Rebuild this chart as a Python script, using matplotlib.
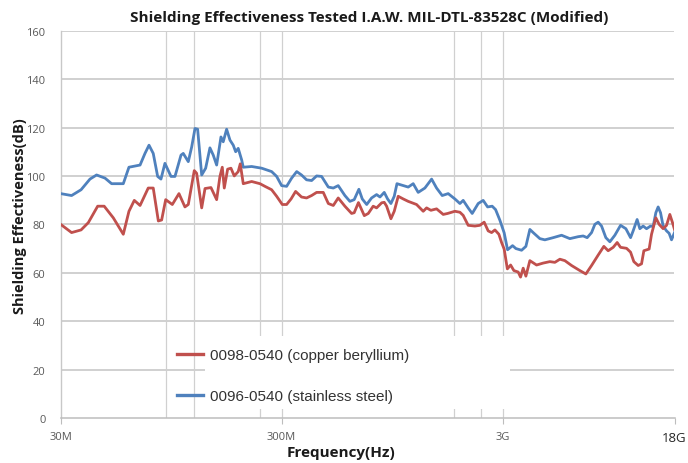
import matplotlib
matplotlib.use("Agg")
import matplotlib.pyplot as plt
from matplotlib.patches import Rectangle

# ---------------- data (frequency in MHz, shielding effectiveness in dB) -------------
blue_freq = [30, 33.6, 37.1, 40.7, 43.6, 47.6, 51.0, 57.6, 61.1, 65.1, 68.6, 72.2, 75.3,
             78.7, 82.4, 85.3, 88.9, 94.7, 98.7, 105.1, 107.6, 113.4, 117.5, 121.6, 125.0,
             130.4, 135.9, 142.1, 147.1, 152.4, 159.4, 163.2, 169.1, 175.1, 181.2, 185.8,
             190.8, 197.8, 201.1, 219.5, 243.6, 270.3, 284.8, 300, 316, 333, 351, 369, 389,
             410, 432, 455, 488, 514, 541, 580, 611, 639, 671, 695, 728, 766, 807, 836, 874,
             905, 937, 970, 998, 1065, 1122, 1182, 1245, 1335, 1432, 1508, 1599, 1702, 1825,
             1923, 1990, 2096, 2186, 2327, 2451, 2566, 2692, 2789, 2917, 3050, 3160, 3329,
             3447, 3657, 3825, 3987, 4127, 4425, 4662, 5082, 5548, 6049, 6595, 6949, 7245,
             7584, 7849, 8124, 8416, 8801, 9177, 9666, 10260, 10843, 11388, 11698, 12193,
             12543, 12982, 13449, 14022, 14405, 14820, 15180, 15563, 15990, 16567, 17019,
             17451, 18000]
blue_db = [92.7, 91.9, 94.3, 98.7, 100.4, 99.1, 96.8, 96.8, 103.6, 104.1, 104.5, 109.3, 112.7,
           109.3, 99.8, 98.7, 105.2, 99.8, 99.8, 108.6, 109.3, 105.9, 112.0, 119.6, 119.3,
           100.4, 103.2, 111.6, 108.6, 104.5, 116.1, 114.1, 119.3, 114.8, 112.7, 110.0,
           111.4, 106.6, 103.6, 103.9, 103.2, 101.8, 99.8, 96.0, 95.7, 99.1, 101.8, 100.4, 98.4,
           98.1, 100.0, 99.8, 95.4, 95.0, 96.0, 91.9, 89.5, 90.2, 94.5, 90.5, 88.2, 90.9, 92.3,
           91.3, 93.2, 90.5, 88.6, 91.6, 96.8, 96.0, 95.4, 96.8, 93.2, 95.0, 98.7, 95.0, 91.9,
           92.7, 90.5, 88.6, 89.9, 86.8, 84.5, 88.6, 89.9, 87.2, 87.5, 86.1, 81.7, 76.5, 69.5,
           71.2, 70.0, 69.3, 70.9, 77.9, 76.6, 74.1, 73.6, 74.5, 75.5, 74.1, 74.9, 75.2, 74.5,
           76.6, 80.0, 80.9, 79.3, 74.5, 72.8, 75.5, 79.6, 78.2, 74.5, 77.3, 82.0, 78.2, 79.3,
           78.2, 79.3, 79.1, 84.8, 87.2, 84.8, 79.3, 77.3, 76.3, 73.6, 76.6]

red_freq = [30, 33.6, 37.1, 40.0, 44.1, 47.2, 51.9, 57.6, 61.1, 64.6, 68.6, 74.7, 78.7, 83.0,
            85.9, 89.6, 96.0, 102.9, 109.5, 113.4, 120.7, 123.7, 130.4, 135.0, 143.6, 152.4,
            157.7, 161.6, 165.0, 170.9, 176.9, 183.1, 190.8, 194.9, 201.1, 219.5, 239.3,
            252.1, 270.3, 284.8, 302, 316, 331, 347, 369, 389, 410, 432, 463, 488, 514, 541,
            580, 622, 639, 668, 710, 740, 779, 807, 851, 874, 896, 937, 970, 1011, 1065, 1122,
            1224, 1312, 1359, 1421, 1508, 1616, 1692, 1825, 1923, 1990, 2096, 2248, 2368,
            2476, 2582, 2676, 2770, 2887, 2969, 3050, 3153, 3262, 3375, 3531, 3618, 3719,
            3825, 3987, 4275, 4579, 4910, 5174, 5451, 5742, 6157, 6714, 7146, 7584, 8124,
            8619, 9015, 9499, 9903, 10260, 10921, 11388, 11782, 12327, 12768, 13080, 13818,
            14168, 14820, 15337, 15990, 16567, 17145, 17630, 18000]
red_db = [80.0, 76.6, 77.7, 80.7, 87.5, 87.5, 82.7, 75.9, 85.4, 89.9, 87.8, 95.0, 95.0, 81.4,
          81.8, 90.2, 88.2, 92.7, 87.2, 88.2, 102.2, 101.1, 86.8, 94.8, 95.2, 90.2,
          99.8, 103.6, 95.0, 102.8, 103.2, 100.0, 101.8, 105.0, 96.8, 97.7, 96.8,
          95.7, 94.3, 91.6, 88.2, 88.2, 90.5, 93.6, 91.3, 90.9, 91.9, 93.2, 93.2, 88.6, 87.8,
          90.9, 87.5, 84.5, 84.8, 89.0, 83.6, 84.5, 87.5, 86.8, 88.9, 89.1, 87.5, 82.3, 85.4,
          91.6, 90.5, 89.5, 88.2, 85.4, 86.8, 85.8, 86.4, 84.1, 84.5, 85.4, 85.0, 83.7, 79.6,
          79.3, 79.6, 80.9, 77.3, 76.6, 77.7, 75.9, 72.5, 69.8, 61.6, 63.2, 60.9, 60.3, 58.2,
          61.9, 58.6, 65.0, 63.2, 64.0, 64.6, 64.3, 65.6, 65.0, 63.0, 60.9, 59.5, 63.0, 67.3,
          70.9, 69.1, 70.5, 72.5, 70.5, 70.1, 68.5, 64.6, 63.0, 63.7, 69.1, 69.8, 75.9, 82.7,
          80.0, 78.2, 79.6, 84.1, 80.7, 77.9]

series_labels = ["0098-0540 (copper beryllium)", "0096-0540 (stainless steel)"]
xtick_vals = [30, 300, 3000, 18000]
xtick_labels = ["30M", "300M", "3G", "18G"]
ytick_vals = [0, 20, 40, 60, 80, 100, 120, 140, 160]
vgrid_freqs = [90, 120, 240, 300, 1800, 2400, 3000]

title = "Shielding Effectiveness Tested I.A.W. MIL-DTL-83528C (Modified)"
xlabel = "Frequency(Hz)"
ylabel = "Shielding Effectiveness(dB)"

RED = "#C0504D"
BLUE = "#4F81BD"

# ---------------- figure ----------------
W, H = 688, 464
fig = plt.figure(figsize=(W / 100, H / 100), dpi=100)
left_px, right_px, top_px, bot_px = 60.7, 674.5, 31.7, 419.0
ax = fig.add_axes([left_px / W, 1 - bot_px / H, (right_px - left_px) / W, (bot_px - top_px) / H])

ax.set_xscale("log")
ax.set_xlim(30, 18000)
ax.set_ylim(0, 160)

# grid
for v in ytick_vals[1:]:
    ax.axhline(v, color="#c4c4c4", lw=1.1, zorder=1)
for f in vgrid_freqs:
    ax.axvline(f, color="#d0d0d0", lw=0.9, zorder=1)

# white patch behind legend text (as in the reference)
ax.add_patch(Rectangle((0.235, 0.024), 0.497, 0.188, transform=ax.transAxes,
                       facecolor="white", edgecolor="none", zorder=2))

l_red, = ax.plot(red_freq, red_db, color=RED, lw=2.0, zorder=4, label=series_labels[0])
l_blue, = ax.plot(blue_freq, blue_db, color=BLUE, lw=2.0, zorder=3, label=series_labels[1])

# spines
for s in ["top", "right"]:
    ax.spines[s].set_visible(False)
ax.spines["left"].set_color("#c8c8c8")
ax.spines["bottom"].set_color("#bdbdbd")
ax.spines["left"].set_linewidth(1.0)
ax.spines["bottom"].set_linewidth(1.1)

ax.set_xticks(xtick_vals)
ax.set_xticklabels(xtick_labels)
ax.xaxis.set_minor_locator(matplotlib.ticker.NullLocator())
ax.set_yticks(ytick_vals)
ax.tick_params(axis="x", length=4, color="#bdbdbd", pad=5, labelsize=8, labelcolor="#595959")
ax.tick_params(axis="y", length=0, pad=11, labelsize=8, labelcolor="#595959")
for lab in ax.get_xticklabels() + ax.get_yticklabels():
    lab.set_fontfamily("Open Sans")
xl = ax.get_xticklabels()
xl[-1].set_color("#262626")
xl[-1].set_fontsize(9.5)

fig.text(0.537, 1 - 18 / H, title, ha="center", va="center", fontsize=11,
         fontweight="bold", family="Open Sans", color="#1a1a1a")
fig.text(341 / W, 1 - 453 / H, xlabel, ha="center", va="center", fontsize=11,
         fontweight="bold", family="Open Sans", color="#1a1a1a")
fig.text(20 / W, 1 - 216 / H, ylabel, ha="center", va="center", rotation=90,
         fontsize=10.5, fontweight="bold", family="Open Sans", color="#1a1a1a")

leg = ax.legend(handles=[l_red, l_blue], loc="upper left", bbox_to_anchor=(0.189, 0.18),
                frameon=False, borderpad=0, borderaxespad=0, handlelength=1.7,
                handletextpad=0.5, labelspacing=1.78,
                prop={"family": "Liberation Sans", "size": 11})
for t in leg.get_texts():
    t.set_color("#333333")
for h in leg.legend_handles:
    h.set_linewidth(2.4)
leg.set_zorder(5)

fig.savefig("out.png", dpi=100, facecolor="white")
